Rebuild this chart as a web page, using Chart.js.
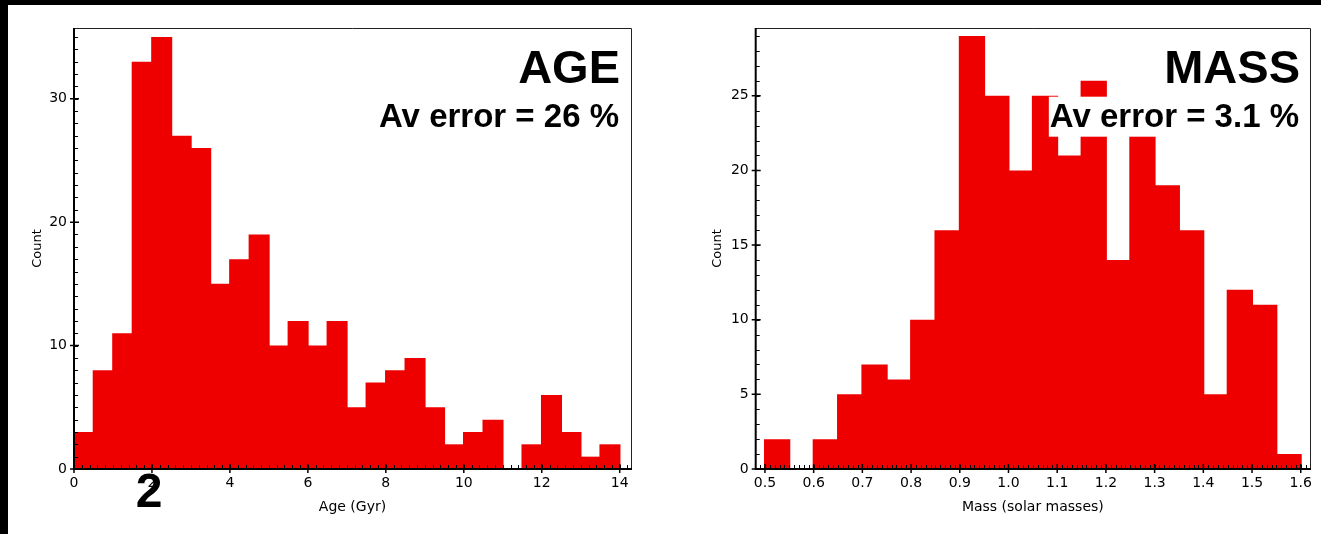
<!DOCTYPE html>
<html>
<head>
<meta charset="utf-8">
<script src="https://cdn.jsdelivr.net/npm/chart.js@4.4.1/dist/chart.umd.min.js"></script>
<style>
  html, body { margin: 0; padding: 0; background: #fff; width: 1321px; height: 534px; overflow: hidden; position: relative; }
  #ageChart { position: absolute; left: 0; top: 0; }
  #massChart { position: absolute; left: 680px; top: 0; }
  .strip { position: absolute; background: #000; z-index: 5; }
</style>
</head>
<body>
<canvas id="ageChart" width="680" height="534"></canvas>
<canvas id="massChart" width="641" height="534"></canvas>
<div class="strip" style="left:0;top:0;width:1321px;height:5px"></div>
<div class="strip" style="left:0;top:0;width:8px;height:534px"></div>
<script>
// Age histogram: lower bin edges (Gyr) and star counts per 0.5 Gyr bin
const ageBinStarts = [0, 0.5, 1, 1.5, 2, 2.5, 3, 3.5, 4, 4.5, 5, 5.5, 6, 6.5, 7, 7.5,
                      8, 8.5, 9, 9.5, 10, 10.5, 11, 11.5, 12, 12.5, 13, 13.5];
const ageCounts = [3, 8, 11, 33, 35, 27, 26, 15, 17, 19, 10, 12, 10, 12, 5, 7,
                   8, 9, 5, 2, 3, 4, 0, 2, 6, 3, 1, 2];
const ageBinWidth = 0.5;

// Mass histogram: lower bin edges (solar masses) and counts per 0.05 bin
const massBinStarts = [0.50, 0.55, 0.60, 0.65, 0.70, 0.75, 0.80, 0.85, 0.90, 0.95, 1.00,
                       1.05, 1.10, 1.15, 1.20, 1.25, 1.30, 1.35, 1.40, 1.45, 1.50, 1.55];
const massCounts = [2, 0, 2, 5, 7, 6, 10, 16, 29, 25, 20,
                    25, 21, 26, 14, 23, 19, 16, 5, 12, 11, 1];
const massBinWidth = 0.05;

// Labelled tick values
const ageTicks = [0, 2, 4, 6, 8, 10, 12, 14];
const ageCountTicks = [0, 10, 20, 30];
const massTicks = [0.5, 0.6, 0.7, 0.8, 0.9, 1.0, 1.1, 1.2, 1.3, 1.4, 1.5, 1.6];
const massCountTicks = [0, 5, 10, 15, 20, 25];

const BAR_RED = 'rgb(238,0,0)';
const TICK_FONT = { family: 'DejaVu Sans', size: 14 };

// Draws the plot frame, major/minor tick marks and the annotation text
function frameAndTicks(cfg) {
  return {
    id: 'frameAndTicks',
    afterDatasetsDraw(chart) {
      const { ctx, chartArea: a, scales: { x, y } } = chart;
      ctx.save();
      ctx.strokeStyle = '#000';
      ctx.lineWidth = 1;
      ctx.beginPath();
      // minor ticks on x (inside)
      for (let i = 0; ; i++) {
        const v = cfg.xMinorFrom + i * cfg.xMinorStep;
        if (v > x.max + 1e-9) break;
        const px = Math.round(x.getPixelForValue(v)) + 0.5;
        ctx.moveTo(px, a.bottom); ctx.lineTo(px, a.bottom - 4);
      }
      // minor ticks on y (inside)
      for (let i = 0; ; i++) {
        const v = i * cfg.yMinorStep;
        if (v > y.max + 1e-9) break;
        const py = Math.round(y.getPixelForValue(v)) + 0.5;
        ctx.moveTo(a.left, py); ctx.lineTo(a.left + 4, py);
      }
      ctx.stroke();
      // major ticks (both sides of the axis)
      ctx.lineWidth = 1.5;
      ctx.beginPath();
      cfg.xTicks.forEach(v => {
        const px = x.getPixelForValue(v);
        ctx.moveTo(px, a.bottom + 4); ctx.lineTo(px, a.bottom - 5);
      });
      cfg.yTicks.forEach(v => {
        const py = y.getPixelForValue(v);
        ctx.moveTo(a.left - 4, py); ctx.lineTo(a.left + 5, py);
      });
      ctx.stroke();
      // frame: thin top/right, heavier left/bottom axes
      ctx.lineWidth = 1;
      ctx.strokeStyle = '#222';
      ctx.beginPath();
      ctx.moveTo(a.left, a.top + 0.5); ctx.lineTo(a.right + 0.5, a.top + 0.5);
      ctx.lineTo(a.right + 0.5, a.bottom);
      ctx.stroke();
      ctx.lineWidth = 2;
      ctx.strokeStyle = '#000';
      ctx.beginPath();
      ctx.moveTo(a.left, a.top); ctx.lineTo(a.left, a.bottom);
      ctx.lineTo(a.right + 1, a.bottom);
      ctx.stroke();

      // heading and error annotation, right aligned
      ctx.fillStyle = '#000';
      ctx.textAlign = 'right';
      ctx.textBaseline = 'alphabetic';
      ctx.font = 'bold 47px "Liberation Sans", Arial, sans-serif';
      ctx.fillText(cfg.heading, cfg.textRight + 1, 83);
      ctx.font = 'bold 33px "Liberation Sans", Arial, sans-serif';
      const w = ctx.measureText(cfg.note).width;
      ctx.fillStyle = '#fff';
      ctx.fillRect(cfg.textRight - w - 1, 96.7, w + 4, 40);
      ctx.fillStyle = '#000';
      ctx.fillText(cfg.note, cfg.textRight, 126.7);

      if (cfg.panelLabel) {
        ctx.textAlign = 'center';
        ctx.font = 'bold 48px "Liberation Sans", Arial, sans-serif';
        ctx.fillText(cfg.panelLabel, 149, 506.5);
      }
      ctx.restore();
    }
  };
}

function makeHistogram(canvasId, cfg) {
  return new Chart(document.getElementById(canvasId), {
    type: 'bar',
    data: {
      datasets: [{
        data: cfg.starts.map((s, i) => ({ x: s + cfg.binWidth / 2, y: cfg.counts[i] })),
        backgroundColor: BAR_RED,
        borderWidth: 0,
        // slightly wider than the bin so neighbouring bars meet without seams
        barPercentage: 1.08,
        categoryPercentage: 1,
        grouped: false
      }]
    },
    options: {
      responsive: false,
      animation: false,
      devicePixelRatio: 1,
      layout: { padding: { top: 28, right: cfg.padRight, bottom: 0, left: 0 } },
      plugins: { legend: { display: false }, tooltip: { enabled: false } },
      scales: {
        x: {
          type: 'linear',
          offset: false,
          min: cfg.xMin, max: cfg.xMax,
          grid: { display: false, drawTicks: false, offset: false },
          border: { display: false },
          afterBuildTicks: s => { s.ticks = cfg.xTicks.map(v => ({ value: v })); },
          afterFit: s => { s.height = 65; },
          ticks: { padding: 6, color: '#000', font: TICK_FONT, maxRotation: 0, autoSkip: false,
                   callback: cfg.xFormat },
          title: { display: true, text: cfg.xTitle, color: '#000',
                   font: { family: 'DejaVu Sans', size: 14 }, padding: { top: 0, bottom: 18.3 } }
        },
        y: {
          type: 'linear',
          min: 0, max: cfg.yMax,
          grid: { display: false, drawTicks: false },
          border: { display: false },
          afterBuildTicks: s => { s.ticks = cfg.yTicks.map(v => ({ value: v })); },
          afterFit: s => { s.width = cfg.yWidth; },
          ticks: { padding: 7, color: '#000', font: TICK_FONT, autoSkip: false },
          title: { display: true, text: 'Count', color: '#000',
                   font: { family: 'DejaVu Sans', size: 13 }, padding: { top: 30, bottom: 0 } }
        }
      }
    },
    plugins: [frameAndTicks(cfg)]
  });
}

makeHistogram('ageChart', {
  starts: ageBinStarts, counts: ageCounts, binWidth: ageBinWidth,
  xMin: 0, xMax: 14.29, yMax: 35.73,
  xTicks: ageTicks, yTicks: ageCountTicks,
  xMinorFrom: 0, xMinorStep: 0.2, yMinorStep: 1,
  xFormat: v => String(v),
  xTitle: 'Age (Gyr)',
  yWidth: 74, padRight: 49,
  heading: 'AGE', note: 'Av error = 26 %', textRight: 619,
  panelLabel: '2'
});

makeHistogram('massChart', {
  starts: massBinStarts, counts: massCounts, binWidth: massBinWidth,
  xMin: 0.481, xMax: 1.619, yMax: 29.54,
  xTicks: massTicks, yTicks: massCountTicks,
  xMinorFrom: 0.49, xMinorStep: 0.01, yMinorStep: 1,
  xFormat: v => Number(v).toFixed(1),
  xTitle: 'Mass (solar masses)',
  yWidth: 75.7, padRight: 11,
  heading: 'MASS', note: 'Av error = 3.1 %', textRight: 619
});
</script>
</body>
</html>
